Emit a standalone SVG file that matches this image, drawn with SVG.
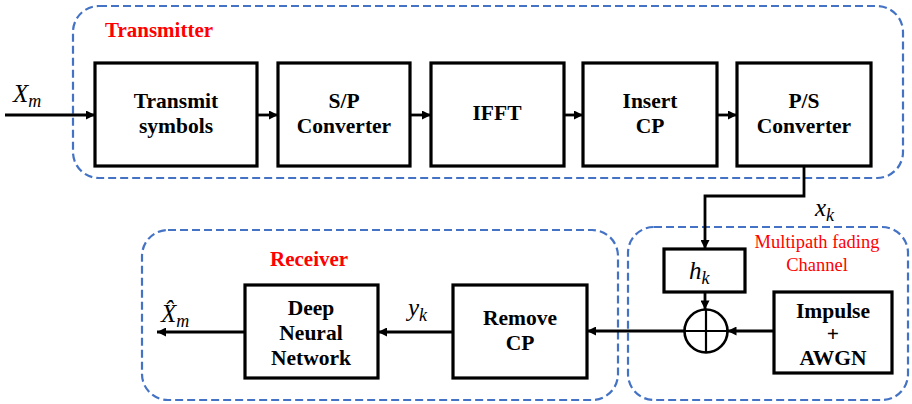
<svg xmlns="http://www.w3.org/2000/svg" width="912" height="404" viewBox="0 0 912 404">
<defs>
<marker id="ah" viewBox="0 0 10 10" refX="10" refY="5" markerWidth="10" markerHeight="9" markerUnits="userSpaceOnUse" orient="auto">
<path d="M0,0 L10,5 L0,10 Z" fill="#000"/>
</marker>
</defs>
<style>
.grp{fill:none;stroke:#4472C4;stroke-width:2.2;stroke-dasharray:8 4}
.box{fill:#fff;stroke:#000;stroke-width:3.2}
.t{font-weight:bold;font-size:21.5px;text-anchor:middle;fill:#000}
.lbl{font-weight:bold;font-size:21px;fill:#FF0000}
.red{font-size:18.5px;fill:#FF0000;text-anchor:middle}
.m{font-style:italic;font-size:25px;fill:#000}
.ca{fill:none;stroke:#000;stroke-width:2.8;marker-end:url(#ah)}
</style>
<g id="transmitter">
<rect class="grp" x="73" y="6" width="830" height="172" rx="26"/>
<text class="lbl" font-family="'Liberation Serif', serif" x="105" y="37">Transmitter</text>
</g>
<g id="receiver">
<rect class="grp" x="142" y="230" width="476" height="170" rx="26"/>
<text class="lbl" font-family="'Liberation Serif', serif" x="270" y="266">Receiver</text>
</g>
<g id="channel">
<rect class="grp" x="628" y="227" width="280" height="173" rx="26"/>
<text class="red" font-family="'Liberation Serif', serif" x="817" y="248">Multipath fading</text>
<text class="red" font-family="'Liberation Serif', serif" x="817" y="271">Channel</text>
</g>
<g id="transmit-symbols">
<rect class="box" x="95" y="63" width="162" height="103"/>
<text class="t" font-family="'Liberation Serif', serif" x="176" y="108">Transmit</text>
<text class="t" font-family="'Liberation Serif', serif" x="176" y="133">symbols</text>
</g>
<g id="sp-converter">
<rect class="box" x="278" y="63" width="132" height="103"/>
<text class="t" font-family="'Liberation Serif', serif" x="344" y="108">S/P</text>
<text class="t" font-family="'Liberation Serif', serif" x="344" y="133">Converter</text>
</g>
<g id="ifft">
<rect class="box" x="431" y="63" width="133" height="103"/>
<text class="t" font-family="'Liberation Serif', serif" x="497" y="120">IFFT</text>
</g>
<g id="insert-cp">
<rect class="box" x="583" y="63" width="134" height="103"/>
<text class="t" font-family="'Liberation Serif', serif" x="650" y="108">Insert</text>
<text class="t" font-family="'Liberation Serif', serif" x="650" y="133">CP</text>
</g>
<g id="ps-converter">
<rect class="box" x="737" y="63" width="134" height="103"/>
<text class="t" font-family="'Liberation Serif', serif" x="804" y="108">P/S</text>
<text class="t" font-family="'Liberation Serif', serif" x="804" y="133">Converter</text>
</g>
<g id="hk">
<rect class="box" x="664" y="249" width="81" height="43"/>
<text class="m" font-family="'Liberation Serif', serif" x="689" y="279">h<tspan font-size="18" dy="5">k</tspan></text>
</g>
<g id="adder">
<circle cx="706" cy="331" r="21.5" fill="#fff" stroke="#000" stroke-width="2.6"/>
<path d="M684.5,331 H727.5 M706,309.5 V352.5" stroke="#000" stroke-width="2.2"/>
</g>
<g id="impulse-awgn">
<rect class="box" x="774" y="292" width="118" height="81"/>
<text class="t" font-family="'Liberation Serif', serif" x="833" y="318">Impulse</text>
<text class="t" font-family="'Liberation Serif', serif" x="833" y="341" font-weight="normal">+</text>
<text class="t" font-family="'Liberation Serif', serif" x="833" y="365">AWGN</text>
</g>
<g id="remove-cp">
<rect class="box" x="453" y="285" width="134" height="93"/>
<text class="t" font-family="'Liberation Serif', serif" x="520" y="325">Remove</text>
<text class="t" font-family="'Liberation Serif', serif" x="520" y="350">CP</text>
</g>
<g id="dnn">
<rect class="box" x="245" y="285" width="133" height="93"/>
<text class="t" font-family="'Liberation Serif', serif" x="311" y="315">Deep</text>
<text class="t" font-family="'Liberation Serif', serif" x="311" y="340">Neural</text>
<text class="t" font-family="'Liberation Serif', serif" x="311" y="365">Network</text>
</g>
<g id="connectors">
<line class="ca" x1="5" y1="115" x2="95" y2="115"/>
<line class="ca" x1="257" y1="115" x2="278" y2="115"/>
<line class="ca" x1="410" y1="115" x2="431" y2="115"/>
<line class="ca" x1="564" y1="115" x2="583" y2="115"/>
<line class="ca" x1="717" y1="115" x2="737" y2="115"/>
<polyline class="ca" points="804,166 804,196 705,196 705,249"/>
<line class="ca" x1="705" y1="292" x2="705" y2="309.5"/>
<line class="ca" x1="774" y1="331" x2="727.5" y2="331"/>
<line class="ca" x1="684.5" y1="331" x2="587" y2="331"/>
<line class="ca" x1="453" y1="332" x2="378" y2="332"/>
<line class="ca" x1="245" y1="332" x2="157" y2="332"/>
</g>
<g id="labels">
<text class="m" font-family="'Liberation Serif', serif" x="13" y="102">X<tspan font-size="18" dy="5">m</tspan></text>
<text class="m" font-family="'Liberation Serif', serif" x="815" y="216">x<tspan font-size="18" dy="5">k</tspan></text>
<text class="m" font-family="'Liberation Serif', serif" x="408" y="316">y<tspan font-size="18" dy="5">k</tspan></text>
<text class="m" font-family="'Liberation Serif', serif" x="161" y="322">X̂<tspan font-size="18" dy="5">m</tspan></text>
</g>
</svg>
